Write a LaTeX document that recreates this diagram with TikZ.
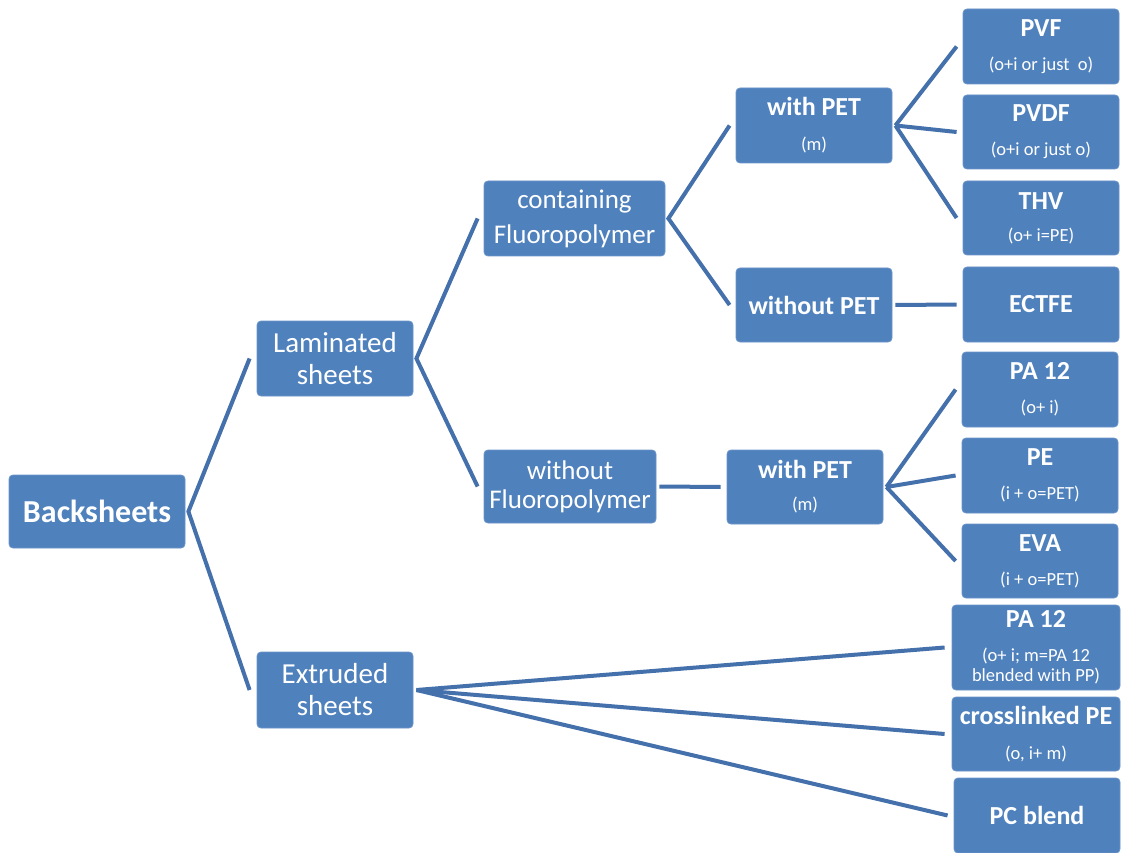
\documentclass[tikz,border=0pt]{standalone}
\usepackage{fontspec}
\setmainfont{Carlito}
\definecolor{boxblue}{HTML}{4F81BD}
\definecolor{boxedge}{HTML}{6A93C9}
\definecolor{linkblue}{HTML}{4470AB}
\tikzset{
  box/.style={fill=boxblue, draw=boxedge, line width=0.8pt, rounded corners=4pt, text=white, align=center, inner sep=0pt},
  two/.style={box, font=\fontsize{18.5}{20}\selectfont},
  one/.style={box, font=\fontsize{26}{28}\selectfont\bfseries},
  link/.style={draw=linkblue, line width=4pt},
}
\newcommand{\ttl}[1]{{\fontsize{26}{28}\selectfont\bfseries #1}}
\begin{document}
\begin{tikzpicture}[x=1pt,y=-1pt]
\useasboundingbox (0,0) rectangle (1125,853);
% level 0
\node[box, font=\fontsize{32}{36}\selectfont\bfseries, minimum width=176pt, minimum height=73pt] (back) at (97,511.5) {Backsheets};
% level 1
\node[box, font=\fontsize{29}{32}\selectfont, minimum width=156pt, minimum height=75pt] (lam) at (335,358.5) {Laminated\\sheets};
\node[box, font=\fontsize{29}{32}\selectfont, minimum width=156pt, minimum height=76pt] (ext) at (335,690) {Extruded\\sheets};
% level 2
\node[box, font=\fontsize{27}{35}\selectfont, minimum width=181pt, minimum height=75pt] (cont) at (574.5,218.5) {containing\\Fluoropolymer};
\node[box, font=\fontsize{27}{29}\selectfont, minimum width=172pt, minimum height=73pt] (wof) at (570,486.5) {without\\Fluoropolymer};
% level 3
\node[two, minimum width=156pt, minimum height=75pt] (wpet1) at (814,125.5) {\ttl{with PET}\\[15pt](m)};
\node[one, minimum width=156pt, minimum height=74pt] (wopet) at (814,305) {without PET};
\node[two, minimum width=156pt, minimum height=74pt] (wpet2) at (805,487) {\ttl{with PET}\\[12pt](m)};
% leaves
\node[two, minimum width=156pt, minimum height=75pt] (pvf) at (1041,46.5) {\ttl{PVF}\\[14pt](o+i or just\ \ o)};
\node[two, minimum width=156pt, minimum height=74pt] (pvdf) at (1041,132) {\ttl{PVDF}\\[14pt](o+i or just o)};
\node[two, minimum width=156pt, minimum height=74pt] (thv) at (1041,218) {\ttl{THV}\\[12pt](o+ i=PE)};
\node[one, minimum width=156pt, minimum height=75pt] (ectfe) at (1041,304.5) {ECTFE};
\node[two, minimum width=156pt, minimum height=75pt] (pa12) at (1040,389.5) {\ttl{PA 12}\\[14pt](o+ i)};
\node[two, minimum width=156pt, minimum height=75pt] (pe) at (1040,475.5) {\ttl{PE}\\[14pt](i + o=PET)};
\node[two, minimum width=156pt, minimum height=74pt] (eva) at (1040,561) {\ttl{EVA}\\[14pt](i + o=PET)};
\node[two, minimum width=168pt, minimum height=85pt] (pa12e) at (1036,647.5) {\ttl{PA 12}\\[14pt](o+ i; m=PA 12\\blended with PP)};
\node[two, minimum width=168pt, minimum height=74pt] (xpe) at (1036,734) {\ttl{crosslinked PE}\\[15pt](o, i+ m)};
\node[one, minimum width=166pt, minimum height=75pt] (pcb) at (1037,815.5) {PC blend};
% connectors
\draw[link] ([xshift=-7pt]lam.west) -- ([xshift=3pt]back.east) -- ([xshift=-7pt]ext.west);
\draw[link] ([xshift=-6pt]cont.west) -- ([xshift=3pt]lam.east) -- ([xshift=-6pt]wof.west);
\draw[link] ([xshift=-6pt]wpet1.west) -- ([xshift=3pt]cont.east) -- ([xshift=-6pt]wopet.west);
\draw[link] ([xshift=3pt]wpet1.east) -- ([xshift=-6pt]pvf.west);
\draw[link] ([xshift=3pt]wpet1.east) -- ([xshift=-6pt]pvdf.west);
\draw[link] ([xshift=3pt]wpet1.east) -- ([xshift=-6pt]thv.west);
\draw[link] ([xshift=3pt]wopet.east) -- ([xshift=-6pt]ectfe.west);
\draw[link] ([xshift=3pt]wof.east) -- ([xshift=-6pt]wpet2.west);
\draw[link] ([xshift=3pt]wpet2.east) -- ([xshift=-6pt]pa12.west);
\draw[link] ([xshift=3pt]wpet2.east) -- ([xshift=-6pt]pe.west);
\draw[link] ([xshift=3pt]wpet2.east) -- ([xshift=-6pt]eva.west);
\draw[link] ([xshift=3pt]ext.east) -- ([xshift=-7pt]pa12e.west);
\draw[link] ([xshift=3pt]ext.east) -- ([xshift=-7pt]xpe.west);
\draw[link] ([xshift=3pt]ext.east) -- ([xshift=-6pt]pcb.west);
\end{tikzpicture}
\end{document}
